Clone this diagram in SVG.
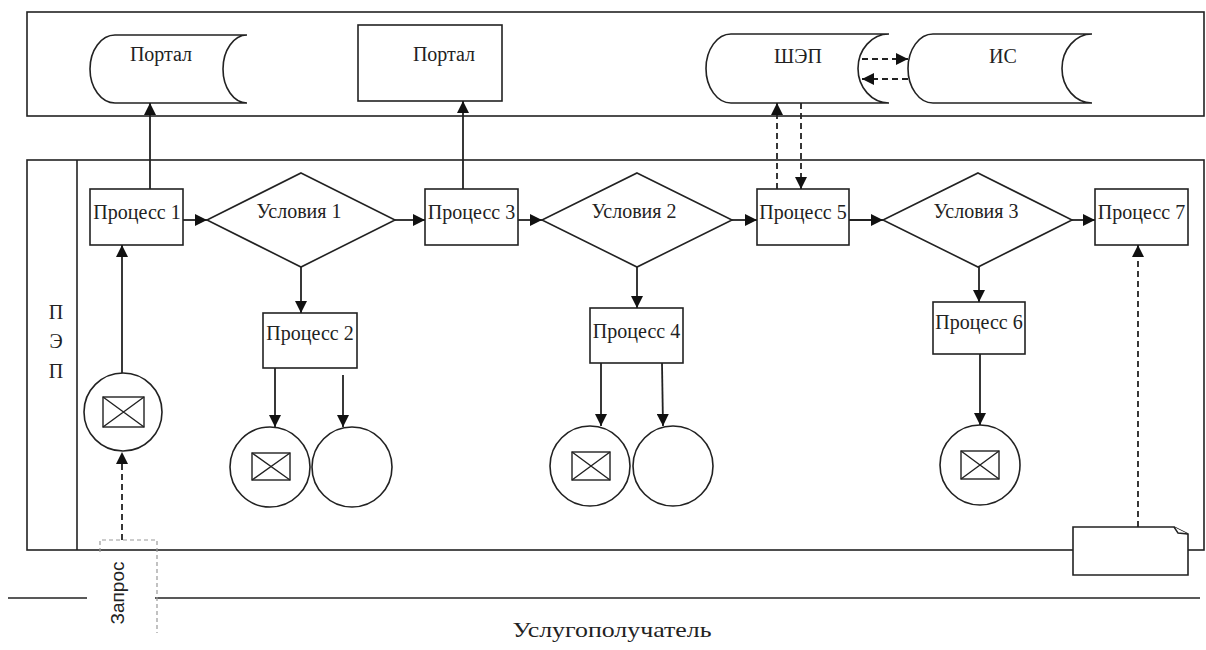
<svg xmlns="http://www.w3.org/2000/svg" width="1206" height="650" viewBox="0 0 1206 650">
<style>
.s{fill:none;stroke:#222;stroke-width:1.6}
.w{fill:#fff;stroke:#222;stroke-width:1.6}
.t{font-family:"Liberation Serif","Times New Roman",serif;font-size:20px;fill:#222;text-anchor:middle}
.a{fill:none;stroke:#222;stroke-width:1.8;marker-end:url(#ah)}
.d{fill:none;stroke:#222;stroke-width:1.8;stroke-dasharray:6 4;marker-end:url(#ah)}
.env{fill:none;stroke:#222;stroke-width:1.4}
</style>
<defs>
<marker id="ah" viewBox="0 0 12 12" refX="12" refY="6" markerWidth="12" markerHeight="12" markerUnits="userSpaceOnUse" orient="auto">
<path d="M0,0 L12,6 L0,12 z" fill="#111"/>
</marker>
</defs>
<rect width="1206" height="650" fill="#fff"/>

<g id="frames">
<rect x="27" y="12" width="1177" height="104" class="s"/>
<rect x="27" y="160" width="1177" height="390" class="s"/>
<line x1="77" y1="160" x2="77" y2="550" class="s"/>
<line x1="8" y1="598" x2="87" y2="598" class="s"/>
<line x1="155" y1="598" x2="1200" y2="598" class="s"/>
<text class="t" x="56" y="319">П</text>
<text class="t" x="56" y="348">Э</text>
<text class="t" x="56" y="378">П</text>
<text class="t" x="612" y="637" style="font-size:22px" textLength="199" lengthAdjust="spacingAndGlyphs">Услугополучатель</text>
</g>

<g id="portal1">
<path class="w" d="M115,35 L247,35 A24,34 0 0 0 247,103 L115,103 A25,34 0 0 1 115,35 Z"/>
<text class="t" x="161" y="61">Портал</text>
</g>
<g id="portal2">
<rect class="w" x="358" y="25" width="144" height="76"/>
<text class="t" x="444" y="61">Портал</text>
</g>
<g id="shep">
<path class="w" d="M731,34 L889,34 A31,34.5 0 0 0 889,103 L731,103 A25,34.5 0 0 1 731,34 Z"/>
<text class="t" x="798" y="63">ШЭП</text>
</g>
<g id="is">
<path class="w" d="M933,34 L1092,34 A30,34.5 0 0 0 1092,103 L933,103 A25,34.5 0 0 1 933,34 Z"/>
<text class="t" x="1003" y="63">ИС</text>
</g>

<g id="p1"><rect class="w" x="90" y="189" width="93" height="56"/><text class="t" x="137" y="219">Процесс 1</text></g>
<g id="c1"><path class="w" d="M301,173 L395,220 L301,267 L207,220 Z"/><text class="t" x="299" y="218">Условия 1</text></g>
<g id="p3"><rect class="w" x="425" y="189" width="93" height="56"/><text class="t" x="471.5" y="219">Процесс 3</text></g>
<g id="c2"><path class="w" d="M637,173 L732,220 L637,267 L542,220 Z"/><text class="t" x="634" y="218">Условия 2</text></g>
<g id="p5"><rect class="w" x="757" y="189" width="92" height="56"/><text class="t" x="803" y="219">Процесс 5</text></g>
<g id="c3"><path class="w" d="M978,173 L1072,220 L978,267 L883,220 Z"/><text class="t" x="976" y="218">Условия 3</text></g>
<g id="p7"><rect class="w" x="1095" y="189" width="93" height="56"/><text class="t" x="1141.5" y="219">Процесс 7</text></g>
<g id="p2"><rect class="w" x="263" y="313" width="94" height="55"/><text class="t" x="310" y="340">Процесс 2</text></g>
<g id="p4"><rect class="w" x="590" y="308" width="93" height="55"/><text class="t" x="636.5" y="338">Процесс 4</text></g>
<g id="p6"><rect class="w" x="933" y="302" width="92" height="52"/><text class="t" x="979" y="329">Процесс 6</text></g>

<g id="start">
<circle class="w" cx="123" cy="412" r="39"/>
<rect class="env" x="103" y="397" width="41" height="30"/>
<path class="env" d="M103,397 L144,427 M144,397 L103,427"/>
</g>
<g id="end2a">
<circle class="w" cx="270" cy="467" r="40"/>
<rect class="env" x="252" y="453" width="38" height="27"/>
<path class="env" d="M252,453 L290,480 M290,453 L252,480"/>
</g>
<g id="end2b"><circle class="w" cx="352" cy="467" r="40"/></g>
<g id="end4a">
<circle class="w" cx="590" cy="466" r="40"/>
<rect class="env" x="572" y="452" width="38" height="28"/>
<path class="env" d="M572,452 L610,480 M610,452 L572,480"/>
</g>
<g id="end4b"><circle class="w" cx="673" cy="466" r="40"/></g>
<g id="end6">
<circle class="w" cx="980" cy="465" r="40"/>
<rect class="env" x="961" y="451" width="38" height="28"/>
<path class="env" d="M961,451 L999,479 M999,451 L961,479"/>
</g>

<g id="request">
<path d="M100,552 L100,540 L157,540 L157,633" fill="none" stroke="#999" stroke-width="1.2" stroke-dasharray="4 3"/>
<text x="117" y="593" transform="rotate(-90 117 593)" style="font-family:'Liberation Sans',Arial,sans-serif;font-size:19px;fill:#222;text-anchor:middle" dy="7">Запрос</text>
</g>

<g id="doc">
<path class="w" d="M1073,527 L1174,527 L1188,534 L1188,575 L1073,575 Z"/>
<path d="M1174,527 L1178,533 L1188,534" fill="#fff" stroke="#222" stroke-width="1.4"/>
</g>

<g id="connectors">
<line class="d" x1="122" y1="540" x2="122" y2="452"/>
<line class="a" x1="122" y1="373" x2="122" y2="245"/>
<line class="a" x1="150" y1="189" x2="150" y2="103"/>
<line class="a" x1="463" y1="189" x2="463" y2="101"/>
<line class="a" x1="183" y1="220" x2="207" y2="220"/>
<line class="a" x1="395" y1="220" x2="425" y2="220"/>
<line class="a" x1="518" y1="220" x2="542" y2="220"/>
<line class="a" x1="732" y1="220" x2="757" y2="220"/>
<line class="a" x1="849" y1="220" x2="883" y2="220"/>
<line class="a" x1="1072" y1="220" x2="1095" y2="220"/>
<line class="a" x1="301" y1="267" x2="301" y2="313"/>
<line class="a" x1="637" y1="267" x2="637" y2="308"/>
<line class="a" x1="979" y1="267" x2="979" y2="302"/>
<line class="a" x1="275" y1="368" x2="275" y2="427"/>
<line class="a" x1="343" y1="375" x2="343" y2="427"/>
<line class="a" x1="601" y1="363" x2="601" y2="426"/>
<line class="a" x1="662" y1="363" x2="663" y2="426"/>
<line class="a" x1="980" y1="354" x2="980" y2="425"/>
<line class="d" x1="777" y1="189" x2="777" y2="103"/>
<line class="d" x1="801" y1="103" x2="801" y2="189"/>
<line class="d" x1="862" y1="59" x2="908" y2="59"/>
<line class="d" x1="908" y1="79" x2="862" y2="79"/>
<line class="d" x1="1138" y1="527" x2="1138" y2="245"/>
</g>
</svg>
